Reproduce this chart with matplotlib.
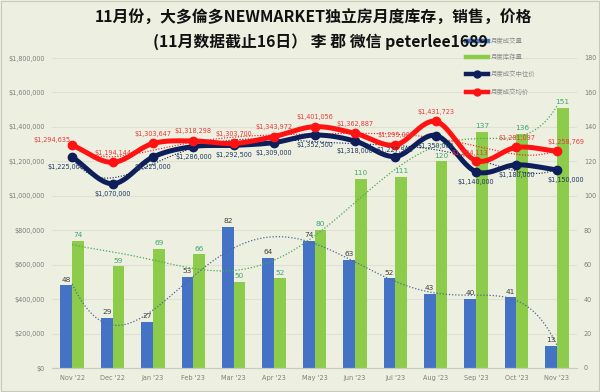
import numpy as np
import matplotlib
matplotlib.use('Agg')
import matplotlib.pyplot as plt
from matplotlib import font_manager
from matplotlib.lines import Line2D
from matplotlib.patches import Rectangle
from matplotlib.ticker import FuncFormatter, MultipleLocator

months = ["Nov '22", "Dec '22", "Jan '23", "Feb '23", "Mar '23", "Apr '23", "May '23",
          "Jun '23", "Jul '23", "Aug '23", "Sep '23", "Oct '23", "Nov '23"]
sales = [48, 29, 27, 53, 82, 64, 74, 63, 52, 43, 40, 41, 13]
inventory = [74, 59, 69, 66, 50, 52, 80, 110, 111, 120, 137, 136, 151]
median_price = [1225000, 1070000, 1225000, 1286000, 1292500, 1309000, 1352500,
                1318000, 1227900, 1350000, 1140000, 1180000, 1150000]
avg_price = [1294635, 1194144, 1303647, 1318298, 1303700, 1343972, 1401056,
             1362887, 1295000, 1431723, 1204113, 1281097, 1258769]
series_names = ["月度成交量", "月度库存量", "月度成交中位价", "月度成交均价"]
title1 = "11月份，大多倫多NEWMARKET独立房月度库存，销售，价格"
title2 = "(11月数据截止16日） 李 郡 微信 peterlee1689"

installed = {f.name for f in font_manager.fontManager.ttflist}
if 'Liberation Sans Narrow' in installed:
    NUMF, NUMSIZE = 'Liberation Sans Narrow', 5.8
elif 'DejaVu Sans Condensed' in installed:
    NUMF, NUMSIZE = 'DejaVu Sans Condensed', 5.0
else:
    NUMF, NUMSIZE = 'DejaVu Sans', 4.7
CJK = ['Noto Sans CJK SC', 'DejaVu Sans']

BG = '#EDEFE1'
BLUE = '#4472C4'
GREEN = '#8DCB4B'
NAVY = '#0E1E5B'
RED = '#FF1212'
GRAY = '#7F7F7F'

fig = plt.figure(figsize=(6, 3.92), dpi=100, facecolor=BG)
ax = fig.add_axes([52/600, 1-368/392, 525/600, 310/392])
ax.set_facecolor(BG)
ax2 = ax.twinx()
ax2.patch.set_visible(False)

x = np.arange(len(months))
w = 0.29

# bars on count axis (ax, right ticks)
ax.bar(x - w/2, sales, w, color=BLUE, zorder=2)
ax.bar(x + w/2, inventory, w, color=GREEN, zorder=2)
for xi, v in zip(x, sales):
    ax.annotate(str(v), (xi - w/2, v), xytext=(0, 2), textcoords='offset points',
                ha='center', va='bottom', fontsize=NUMSIZE+0.6, family=NUMF, color='#404040', zorder=5)
for xi, v in zip(x, inventory):
    ax.annotate(str(v), (xi + w/2, v), xytext=(0, 2), textcoords='offset points',
                ha='center', va='bottom', fontsize=NUMSIZE+0.6, family=NUMF, color='#3FA86A', zorder=5)

ax.set_ylim(0, 180)
ax.set_xlim(-0.5, len(months) - 0.5)
ax.yaxis.set_major_locator(MultipleLocator(20))
ax.yaxis.tick_right()
ax.grid(axis='y', color='#DFE1D3', lw=0.8, zorder=0)
ax.set_axisbelow(True)

def poly_trend(vals, deg=6):
    xs = np.arange(1, len(vals) + 1)
    c = np.polyfit(xs, vals, deg)
    xf = np.linspace(1, len(vals), 200)
    return xf - 1, np.polyval(c, xf)

tx, ty = poly_trend(inventory)
ax.plot(tx, ty, ls=(0, (1, 1.5)), color='#4EA84E', lw=0.9, zorder=3)
tx, ty = poly_trend(sales)
ax.plot(tx, ty, ls=(0, (1, 1.5)), color='#4A6A9A', lw=0.9, zorder=3)

def smooth(xs, ys, n=24):
    xs = np.asarray(xs, float); ys = np.asarray(ys, float)
    m = np.zeros_like(ys)
    m[1:-1] = (ys[2:] - ys[:-2]) / 2
    m[0] = ys[1] - ys[0]
    m[-1] = ys[-1] - ys[-2]
    ox, oy = [], []
    for i in range(len(xs) - 1):
        t = np.linspace(0, 1, n, endpoint=(i == len(xs) - 2))
        h00 = 2*t**3 - 3*t**2 + 1
        h10 = t**3 - 2*t**2 + t
        h01 = -2*t**3 + 3*t**2
        h11 = t**3 - t**2
        ox.append(xs[i] + t)
        oy.append(h00*ys[i] + h10*m[i] + h01*ys[i+1] + h11*m[i+1])
    return np.concatenate(ox), np.concatenate(oy)

# price axis (ax2, left ticks)
ax2.set_ylim(0, 1800000)
ax2.yaxis.set_major_locator(MultipleLocator(200000))
ax2.yaxis.tick_left()
ax2.yaxis.set_major_formatter(FuncFormatter(lambda v, p: f"${v:,.0f}"))

tx, ty = poly_trend(median_price)
ax2.plot(tx, ty, ls=(0, (1, 1.5)), color=NAVY, lw=0.8, zorder=3)
tx, ty = poly_trend(avg_price)
ax2.plot(tx, ty, ls=(0, (1, 1.5)), color=RED, lw=0.8, zorder=3)

sx, sy = smooth(x, median_price)
ax2.plot(sx, sy, color=NAVY, lw=3.6, solid_capstyle='round', zorder=4)
ax2.plot(x, median_price, 'o', color=NAVY, ms=6, zorder=4)
sx, sy = smooth(x, avg_price)
ax2.plot(sx, sy, color=RED, lw=3.6, solid_capstyle='round', zorder=4)
ax2.plot(x, avg_price, 'o', color=RED, ms=6, zorder=4)

px = 0.72
for i, v in enumerate(median_price):
    dx, dy = 0, -10
    if i == 0:
        dx = -6
    if i == 8:
        dy = 7
    if i == 12:
        dx = 9
    ax2.annotate(f"${v:,}", (i, v), xytext=(dx*px, dy*px), textcoords='offset points',
                 ha='center', va='center', fontsize=NUMSIZE, family=NUMF, color='#1F3864', zorder=6)
for i, v in enumerate(avg_price):
    dx, dy = 0, 9.5
    if i == 0:
        dx, dy = -20, 5
    if i == 10:
        dx, dy = -6, 8
    if i == 12:
        dx = 9
    ax2.annotate(f"${v:,}", (i, v), xytext=(dx*px, dy*px), textcoords='offset points',
                 ha='center', va='center', fontsize=NUMSIZE, family=NUMF, color='#E83A3A', zorder=6)

for a in (ax, ax2):
    for s in ('top', 'left', 'right'):
        a.spines[s].set_visible(False)
    a.spines['bottom'].set_color('#C9CBBE')
    a.tick_params(length=0, labelsize=NUMSIZE, labelcolor=GRAY)
    for lbl in a.get_yticklabels():
        lbl.set_family(NUMF)
ax.tick_params(axis='y', pad=5)
ax2.tick_params(axis='y', pad=5)
ax.set_xticks(x)
ax.set_xticklabels(months, fontsize=NUMSIZE, color=GRAY, family=NUMF)
ax.tick_params(axis='x', pad=5)

# title
fig.text(314/600, 1 - 18/392, title1, ha='center', va='center', fontsize=11.4,
         fontweight='bold', family=CJK, color='#111111')
fig.text(320/600, 1 - 42/392, title2, ha='center', va='center', fontsize=11.4,
         fontweight='bold', family=CJK, color='#111111')

# legend
leg_y = [41, 57, 74, 92]
leg_col = [BLUE, GREEN, NAVY, RED]
for j, (yy, cc, nm) in enumerate(zip(leg_y, leg_col, series_names)):
    yf = 1 - yy/392
    fig.add_artist(Line2D([466/600, 488/600], [yf, yf], color=cc, lw=3.2,
                          transform=fig.transFigure))
    if j >= 2:
        fig.add_artist(Line2D([477/600], [yf], marker='o', color=cc, ms=5,
                              transform=fig.transFigure))
    fig.text(491/600, yf, nm, ha='left', va='center', fontsize=4.6, family=CJK, color='#8C8C8C')

fig.add_artist(Rectangle((0.002, 0.003), 0.996, 0.994, transform=fig.transFigure,
                         fill=False, edgecolor='#C8CABB', lw=0.8))

fig.savefig('out.png', dpi=100, facecolor=BG)
